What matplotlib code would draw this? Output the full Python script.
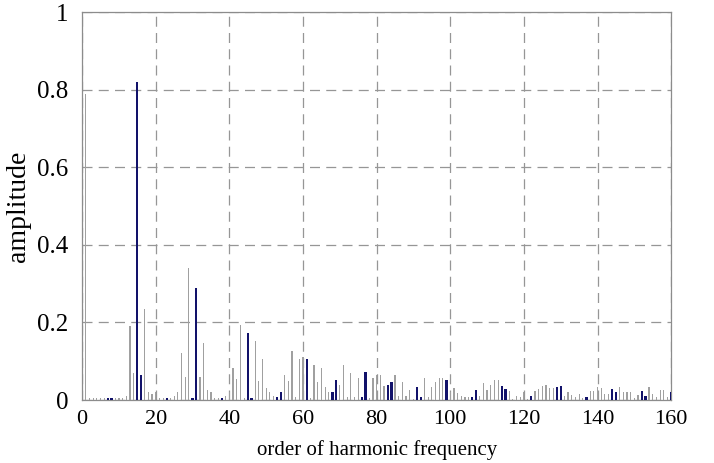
import numpy as np
import matplotlib
matplotlib.use('Agg')
import matplotlib.pyplot as plt

plt.rcParams['font.family'] = ['Liberation Serif', 'DejaVu Serif']

# amplitude of every harmonic order 0..160
amplitude = [
    0.0, 0.79, 0.006, 0.005, 0.005, 0.005, 0.005, 0.005, 0.005, 0.005,   # 0-9
    0.005, 0.005, 0.01, 0.19, 0.07, 0.82, 0.065, 0.235, 0.021, 0.015,    # 10-19
    0.02, 0.005, 0.005, 0.006, 0.005, 0.01, 0.02, 0.12, 0.06, 0.34,      # 20-29
    0.005, 0.29, 0.06, 0.148, 0.026, 0.02, 0.005, 0.005, 0.004, 0.01,    # 30-39
    0.02, 0.082, 0.055, 0.193, 0.005, 0.172, 0.004, 0.153, 0.05, 0.105,  # 40-49
    0.03, 0.02, 0.01, 0.008, 0.02, 0.064, 0.05, 0.126, 0.008, 0.105,     # 50-59
    0.11, 0.105, 0.005, 0.09, 0.047, 0.082, 0.033, 0.02, 0.02, 0.052,    # 60-69
    0.039, 0.09, 0.008, 0.069, 0.008, 0.056, 0.008, 0.073, 0.005, 0.056, # 70-79
    0.064, 0.064, 0.037, 0.04, 0.047, 0.064, 0.01, 0.047, 0.01, 0.026,   # 80-89
    0.003, 0.033, 0.008, 0.056, 0.008, 0.033, 0.047, 0.056, 0.056, 0.052,# 90-99
    0.02, 0.03, 0.018, 0.01, 0.008, 0.008, 0.008, 0.026, 0.011, 0.043,   # 100-109
    0.026, 0.039, 0.052, 0.052, 0.037, 0.028, 0.024, 0.003, 0.01, 0.008, # 110-119
    0.02, 0.003, 0.01, 0.022, 0.028, 0.036, 0.04, 0.03, 0.03, 0.033,     # 120-129
    0.037, 0.01, 0.02, 0.012, 0.008, 0.015, 0.005, 0.008, 0.024, 0.024,  # 130-139
    0.034, 0.03, 0.015, 0.015, 0.029, 0.021, 0.033, 0.021, 0.021, 0.021, # 140-149
    0.005, 0.012, 0.022, 0.01, 0.033, 0.015, 0.008, 0.026, 0.026, 0.008, # 150-159
    0.021,                                                                # 160
]

# harmonic orders drawn as dark blue bars
highlighted = [7, 8, 15, 16, 23, 30, 31, 38, 45, 46, 53, 54, 61, 68, 69,
               76, 77, 83, 84, 91, 92, 99, 106, 107, 114, 115, 122, 129,
               130, 137, 144, 145, 152, 153, 160]

xticks = [0, 20, 40, 60, 80, 100, 120, 140, 160]
yticks = [0, 0.2, 0.4, 0.6, 0.8, 1]
yticklabels = ['0', '0.2', '0.4', '0.6', '0.8', '1']

order = np.arange(len(amplitude))
amp = np.array(amplitude)
is_blue = np.isin(order, highlighted)

fig = plt.figure(figsize=(7.14, 4.63), dpi=100)
ax = fig.add_axes([0.115, 0.136, 0.825, 0.838])

ax.bar(order[~is_blue], amp[~is_blue], width=0.32, color='#a0a0a0',
       linewidth=0, zorder=3)
ax.bar(order[is_blue], amp[is_blue], width=0.62, color='#12126a',
       linewidth=0, zorder=4)

ax.set_xlim(0, 160)
ax.set_ylim(0, 1)
ax.set_xticks(xticks)
ax.set_yticks(yticks)
ax.set_yticklabels(yticklabels)
ax.grid(True, color='#969696', linestyle=(0, (8, 5)), linewidth=0.9, zorder=0)

for s in ax.spines.values():
    s.set_color('#8c8c8c')
    s.set_linewidth(0.9)
ax.tick_params(direction='in', length=0, top=True, right=True)
ax.tick_params(axis='x', labelsize=16, pad=7)
ax.tick_params(axis='y', labelsize=18, pad=10)

ax.set_xlabel('order of harmonic frequency', fontsize=15, labelpad=8)
ax.set_ylabel('amplitude', fontsize=20, labelpad=4)

fig.savefig('out.png', dpi=100)
